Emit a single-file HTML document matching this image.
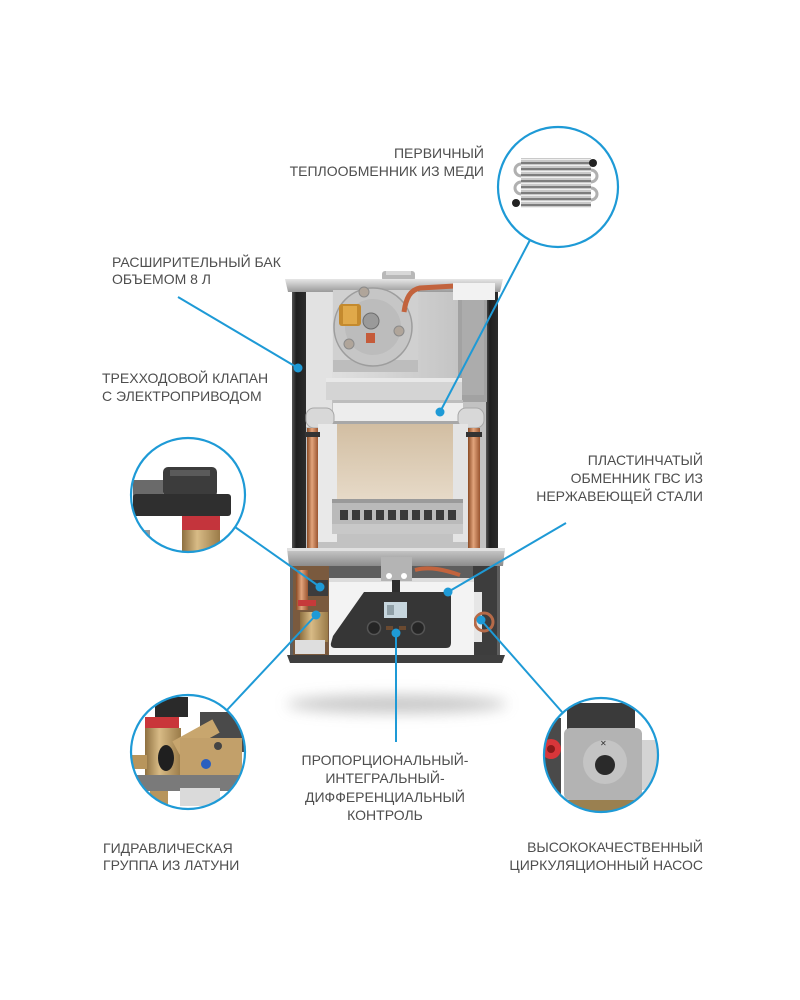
<!DOCTYPE html>
<html><head><meta charset="utf-8">
<style>
html,body{margin:0;padding:0;background:#fff;}
svg{display:block;}
text{font-family:"Liberation Sans","DejaVu Sans",sans-serif;font-size:14px;fill:#4e4e4e;}
</style></head><body>
<svg width="800" height="1000" viewBox="0 0 800 1000" xmlns="http://www.w3.org/2000/svg">
<defs>
 <filter id="blur" x="-50%" y="-200%" width="200%" height="500%"><feGaussianBlur stdDeviation="7"/></filter>
 <linearGradient id="cu" x1="0" x2="1" y1="0" y2="0"><stop offset="0" stop-color="#8a4a24"/><stop offset=".45" stop-color="#e2a47c"/><stop offset="1" stop-color="#9a5530"/></linearGradient>
 <linearGradient id="chamber" x1="0" y1="0" x2="0" y2="1"><stop offset="0" stop-color="#d2bea2"/><stop offset="1" stop-color="#e8dccb"/></linearGradient>
 <linearGradient id="lip" x1="0" y1="0" x2="0" y2="1"><stop offset="0" stop-color="#e6e6e6"/><stop offset="1" stop-color="#9a9a9a"/></linearGradient>
 <linearGradient id="side" x1="0" x2="1"><stop offset="0" stop-color="#555"/><stop offset=".3" stop-color="#1f1f1f"/><stop offset="1" stop-color="#2c2c2c"/></linearGradient>
 <linearGradient id="front" x1="0" x2="1"><stop offset="0" stop-color="#e4e4e4"/><stop offset=".5" stop-color="#d6d6d6"/><stop offset="1" stop-color="#c4c4c4"/></linearGradient>
 <linearGradient id="brass" x1="0" x2="1"><stop offset="0" stop-color="#8e7040"/><stop offset=".4" stop-color="#d8bb86"/><stop offset="1" stop-color="#9a7b48"/></linearGradient>
 <linearGradient id="tray" x1="0" y1="0" x2="0" y2="1"><stop offset="0" stop-color="#cfcfcf"/><stop offset="1" stop-color="#8c8c8c"/></linearGradient>
 <pattern id="tubes" width="6" height="6" patternUnits="userSpaceOnUse"><rect width="6" height="6" fill="#c9c9c9"/><rect y="0" width="6" height="2" fill="#7d7d7d"/><rect y="3" width="6" height="1" fill="#eeeeee"/></pattern>
 <clipPath id="c1"><circle cx="558" cy="187" r="60"/></clipPath>
 <clipPath id="c2"><circle cx="188" cy="495" r="57"/></clipPath>
 <clipPath id="c3"><circle cx="188" cy="752" r="57"/></clipPath>
 <clipPath id="c4"><circle cx="601" cy="755" r="57"/></clipPath>
</defs>

<rect width="800" height="1000" fill="#fff"/>

<!-- shadow -->
<ellipse cx="397" cy="704" rx="110" ry="9" fill="#9a9a9a" opacity=".55" filter="url(#blur)"/>

<!-- ===== BOILER ===== -->
<!-- flue collar -->
<rect x="382" y="271" width="33" height="10" rx="3" fill="#b8b8b8"/>
<rect x="386" y="271" width="25" height="4" fill="#d8d8d8"/>
<!-- back panel -->
<rect x="304" y="290" width="184" height="265" fill="#c2c2c2"/>
<!-- dark sides -->
<rect x="292" y="286" width="14" height="272" fill="url(#side)"/>
<rect x="486" y="286" width="12" height="272" fill="url(#side)"/>
<!-- top lip -->
<polygon points="285,279 503,279 500,292 288,292" fill="url(#lip)"/>
<!-- upper front panel -->
<rect x="306" y="292" width="152" height="88" fill="url(#front)"/>
<rect x="458" y="292" width="29" height="110" fill="#a2a2a2"/>
<rect x="462" y="300" width="22" height="95" fill="#b3b3b3" opacity=".6"/>
<!-- fan plate -->
<rect x="333" y="290" width="85" height="82" fill="#d0d0d0"/>
<rect x="333" y="360" width="85" height="12" fill="#bdbdbd"/>
<!-- fan -->
<circle cx="373" cy="327" r="39" fill="#c6c6c6" stroke="#9d9d9d" stroke-width="1.5"/>
<circle cx="373" cy="327" r="28" fill="#bcbcbc"/>
<circle cx="364" cy="292" r="5" fill="#b0a59a" stroke="#8a8a8a"/>
<circle cx="399" cy="331" r="5" fill="#b0a59a" stroke="#8a8a8a"/>
<circle cx="349" cy="344" r="5" fill="#b0a59a" stroke="#8a8a8a"/>
<rect x="339" y="304" width="22" height="22" rx="3" fill="#c48a2e"/>
<rect x="343" y="306" width="14" height="18" fill="#e0a94a"/>
<circle cx="371" cy="321" r="8" fill="#9a9a9a" stroke="#6d6d6d"/>
<rect x="366" y="333" width="9" height="10" fill="#c55b3a"/>
<!-- orange tube -->
<path d="M404,312 C406,298 410,290 420,288 L455,286" stroke="#c2633d" stroke-width="5" fill="none"/>
<rect x="453" y="283" width="42" height="17" fill="#f2f2f2"/>
<!-- left white side -->
<rect x="306" y="292" width="26" height="135" fill="#e2e2e2"/>
<!-- band -->
<rect x="326" y="378" width="136" height="22" fill="#d4d4d4"/>
<rect x="326" y="378" width="136" height="4" fill="#e8e8e8"/>
<!-- heat exchanger strip -->
<rect x="333" y="400" width="130" height="24" fill="#ededed"/>
<rect x="333" y="400" width="130" height="3" fill="#bdbdbd"/>
<rect x="333" y="421" width="130" height="3" fill="#a8a8a8"/>
<!-- elbows -->
<rect x="306" y="408" width="28" height="20" rx="8" fill="#d8d8d8" stroke="#a8a8a8"/>
<rect x="458" y="408" width="26" height="20" rx="8" fill="#d8d8d8" stroke="#a8a8a8"/>
<!-- chamber -->
<rect x="337" y="424" width="116" height="82" fill="url(#chamber)"/>
<rect x="318" y="424" width="19" height="118" fill="#e9e9e9"/>
<rect x="453" y="424" width="15" height="118" fill="#e4e4e4"/>
<!-- copper pipes -->
<rect x="307" y="428" width="11" height="122" fill="url(#cu)"/>
<rect x="468" y="428" width="12" height="122" fill="url(#cu)"/>
<rect x="305" y="432" width="15" height="5" fill="#333"/>
<rect x="466" y="432" width="16" height="5" fill="#333"/>
<!-- burner -->
<rect x="332" y="499" width="131" height="35" fill="#bababa"/>
<rect x="332" y="499" width="131" height="4" fill="#9a9a9a"/>
<g fill="#3a3a3a">
<rect x="340" y="510" width="8" height="10"/><rect x="352" y="510" width="8" height="10"/>
<rect x="364" y="510" width="8" height="10"/><rect x="376" y="510" width="8" height="10"/>
<rect x="388" y="510" width="8" height="10"/><rect x="400" y="510" width="8" height="10"/>
<rect x="412" y="510" width="8" height="10"/><rect x="424" y="510" width="8" height="10"/>
<rect x="436" y="510" width="8" height="10"/><rect x="448" y="510" width="8" height="10"/>
</g>
<rect x="332" y="524" width="131" height="10" fill="#c8c8c8"/>
<!-- lower compartment -->
<rect x="290" y="560" width="210" height="100" fill="#5e5e5e"/>
<!-- tray -->
<polygon points="287,548 505,548 503,566 289,566" fill="url(#tray)"/>
<rect x="287" y="548" width="218" height="3" fill="#e0e0e0"/>
<!-- left components -->
<rect x="293" y="566" width="36" height="90" fill="#7a5a3e"/>
<rect x="296" y="570" width="12" height="40" fill="url(#cu)"/>
<rect x="308" y="580" width="20" height="16" fill="#3c3c3c"/>
<rect x="300" y="612" width="28" height="30" fill="url(#brass)"/>
<rect x="298" y="600" width="18" height="6" fill="#c63a3a"/>
<rect x="295" y="640" width="30" height="14" fill="#dedede"/>
<!-- right components -->
<rect x="473" y="566" width="24" height="90" fill="#3d3d3d"/>
<rect x="474" y="592" width="8" height="50" fill="#e6e6e6"/>
<circle cx="484" cy="622" r="9" fill="none" stroke="#b56a48" stroke-width="3"/>
<!-- top pipes in lower compartment -->
<path d="M415,570 C430,566 445,570 460,575" stroke="#c2633d" stroke-width="4" fill="none"/>
<!-- white control box -->
<rect x="329" y="578" width="145" height="80" fill="#f3f3f3"/>
<rect x="329" y="578" width="145" height="4" fill="#dcdcdc"/>
<!-- bracket -->
<rect x="381" y="557" width="31" height="24" fill="#b4b4b4"/>
<circle cx="389" cy="576" r="3" fill="#fff"/><circle cx="404" cy="576" r="3" fill="#fff"/>
<rect x="392" y="580" width="8" height="12" fill="#2d2d2d"/>
<!-- dark panel -->
<path d="M364,592 L446,592 Q451,592 451,597 L451,643 Q451,648 446,648 L335,648 Q330,648 331,643 L333,636 Z" fill="#363636"/>
<rect x="384" y="602" width="23" height="16" fill="#c7d6de"/>
<rect x="387" y="605" width="7" height="10" fill="#5a6a72" opacity=".5"/>
<circle cx="374" cy="628" r="6.5" fill="#252525" stroke="#555" stroke-width="1.5"/>
<circle cx="418" cy="628" r="6.5" fill="#252525" stroke="#555" stroke-width="1.5"/>
<rect x="386" y="626" width="7" height="4" fill="#6b4a30"/>
<rect x="399" y="626" width="7" height="4" fill="#6b4a30"/>
<!-- bottom base -->
<polygon points="287,655 505,655 502,663 290,663" fill="#3f3f3f"/>

<!-- ===== CALLOUT 1: heat exchanger ===== -->
<circle cx="558" cy="187" r="60" fill="#fff"/>
<g clip-path="url(#c1)">
 <rect x="521" y="158" width="70" height="50" fill="url(#tubes)"/>
 <path d="M521,164 a6,6 0 0 0 0,12 M521,182 a6,6 0 0 0 0,12" stroke="#b0b0b0" stroke-width="3" fill="none"/>
 <path d="M591,170 a6,6 0 0 1 0,12 M591,188 a6,6 0 0 1 0,12" stroke="#b0b0b0" stroke-width="3" fill="none"/>
 <circle cx="593" cy="163" r="4" fill="#222"/>
 <circle cx="516" cy="203" r="4" fill="#222"/>
</g>
<circle cx="558" cy="187" r="60" fill="none" stroke="#1e9ad6" stroke-width="2.2"/>

<!-- ===== CALLOUT 2: actuator ===== -->
<circle cx="188" cy="495" r="57" fill="#fff"/>
<g clip-path="url(#c2)">
 <rect x="133" y="480" width="30" height="32" fill="#6a6a6a"/>
 <rect x="163" y="467" width="54" height="30" rx="5" fill="#3c3c3c"/>
 <rect x="170" y="470" width="40" height="6" fill="#5a5a5a"/>
 <rect x="133" y="494" width="98" height="22" rx="3" fill="#2f2f2f"/>
 <rect x="182" y="516" width="38" height="14" fill="#c4343c"/>
 <rect x="182" y="530" width="38" height="30" fill="url(#brass)"/>
 <rect x="132" y="530" width="18" height="14" fill="#9a9a9a"/>
</g>
<circle cx="188" cy="495" r="57" fill="none" stroke="#1e9ad6" stroke-width="2.2"/>

<!-- ===== CALLOUT 3: hydraulic group ===== -->
<circle cx="188" cy="752" r="57" fill="#fff"/>
<g clip-path="url(#c3)">
 <rect x="200" y="712" width="50" height="40" fill="#4a4a4a"/>
 <rect x="155" y="697" width="33" height="20" fill="#2a2a2a"/>
 <rect x="145" y="717" width="34" height="11" fill="#c9363a"/>
 <rect x="145" y="728" width="36" height="48" fill="url(#brass)"/>
 <path d="M176,748 L216,726" stroke="#c8a66e" stroke-width="15"/>
 <rect x="180" y="738" width="62" height="38" fill="#c2a06a"/>
 <ellipse cx="166" cy="758" rx="8" ry="13" fill="#1f1f1f"/>
 <circle cx="206" cy="764" r="5" fill="#2a5fbf"/>
 <circle cx="218" cy="746" r="4" fill="#444"/>
 <rect x="131" y="755" width="16" height="14" fill="#b8955c"/>
 <rect x="128" y="775" width="120" height="16" fill="#7a7a7a"/>
 <rect x="150" y="791" width="18" height="20" fill="#b8955c"/>
 <rect x="180" y="788" width="40" height="18" fill="#dadada"/>
</g>
<circle cx="188" cy="752" r="57" fill="none" stroke="#1e9ad6" stroke-width="2.2"/>

<!-- ===== CALLOUT 4: pump ===== -->
<circle cx="601" cy="755" r="57" fill="#fff"/>
<g clip-path="url(#c4)">
 <rect x="543" y="718" width="18" height="80" fill="#4a4a4a"/>
 <rect x="641" y="740" width="20" height="50" fill="#d4d4d4"/>
 <rect x="567" y="703" width="68" height="28" fill="#3a3a3a"/>
 <rect x="564" y="728" width="78" height="72" rx="6" fill="#b3b3b3"/>
 <circle cx="605" cy="762" r="22" fill="#c4c4c4"/>
 <circle cx="605" cy="765" r="10" fill="#2a2a2a"/>
 <text x="600" y="746" style="font-size:8px;fill:#333">✕</text>
 <circle cx="551" cy="749" r="10" fill="#d8363a"/>
 <circle cx="551" cy="749" r="4" fill="#8a1a1a"/>
 <rect x="564" y="800" width="78" height="12" fill="#9a8050"/>
</g>
<circle cx="601" cy="755" r="57" fill="none" stroke="#1e9ad6" stroke-width="2.2"/>

<!-- ===== CONNECTORS ===== -->
<g stroke="#1e9ad6" stroke-width="2" fill="none">
 <line x1="530" y1="240" x2="440" y2="412"/>
 <line x1="178" y1="297" x2="298" y2="368"/>
 <line x1="235" y1="527" x2="320" y2="587"/>
 <line x1="227" y1="710" x2="316" y2="615"/>
 <line x1="566" y1="523" x2="448" y2="592"/>
 <line x1="562" y1="712" x2="481" y2="620"/>
 <line x1="396" y1="633" x2="396" y2="742"/>
</g>
<g fill="#1e9ad6">
 <circle cx="440" cy="412" r="4.5"/>
 <circle cx="298" cy="368" r="4.5"/>
 <circle cx="320" cy="587" r="4.5"/>
 <circle cx="316" cy="615" r="4.5"/>
 <circle cx="448" cy="592" r="4.5"/>
 <circle cx="481" cy="620" r="4.5"/>
 <circle cx="396" cy="633" r="4.5"/>
</g>

<!-- ===== LABELS ===== -->
<text x="484" y="158" text-anchor="end">ПЕРВИЧНЫЙ</text>
<text x="484" y="176" text-anchor="end">ТЕПЛООБМЕННИК ИЗ МЕДИ</text>

<text x="112" y="267">РАСШИРИТЕЛЬНЫЙ БАК</text>
<text x="112" y="284">ОБЪЕМОМ 8 Л</text>

<text x="102" y="383">ТРЕХХОДОВОЙ КЛАПАН</text>
<text x="102" y="401">С ЭЛЕКТРОПРИВОДОМ</text>

<text x="703" y="465" text-anchor="end">ПЛАСТИНЧАТЫЙ</text>
<text x="703" y="483" text-anchor="end">ОБМЕННИК ГВС ИЗ</text>
<text x="703" y="501" text-anchor="end">НЕРЖАВЕЮЩЕЙ СТАЛИ</text>

<text x="385" y="765" text-anchor="middle">ПРОПОРЦИОНАЛЬНЫЙ-</text>
<text x="385" y="783" text-anchor="middle">ИНТЕГРАЛЬНЫЙ-</text>
<text x="385" y="802" text-anchor="middle">ДИФФЕРЕНЦИАЛЬНЫЙ</text>
<text x="385" y="820" text-anchor="middle">КОНТРОЛЬ</text>

<text x="103" y="853">ГИДРАВЛИЧЕСКАЯ</text>
<text x="103" y="870">ГРУППА ИЗ ЛАТУНИ</text>

<text x="703" y="852" text-anchor="end">ВЫСОКОКАЧЕСТВЕННЫЙ</text>
<text x="703" y="870" text-anchor="end">ЦИРКУЛЯЦИОННЫЙ НАСОС</text>
</svg>
</body></html>
